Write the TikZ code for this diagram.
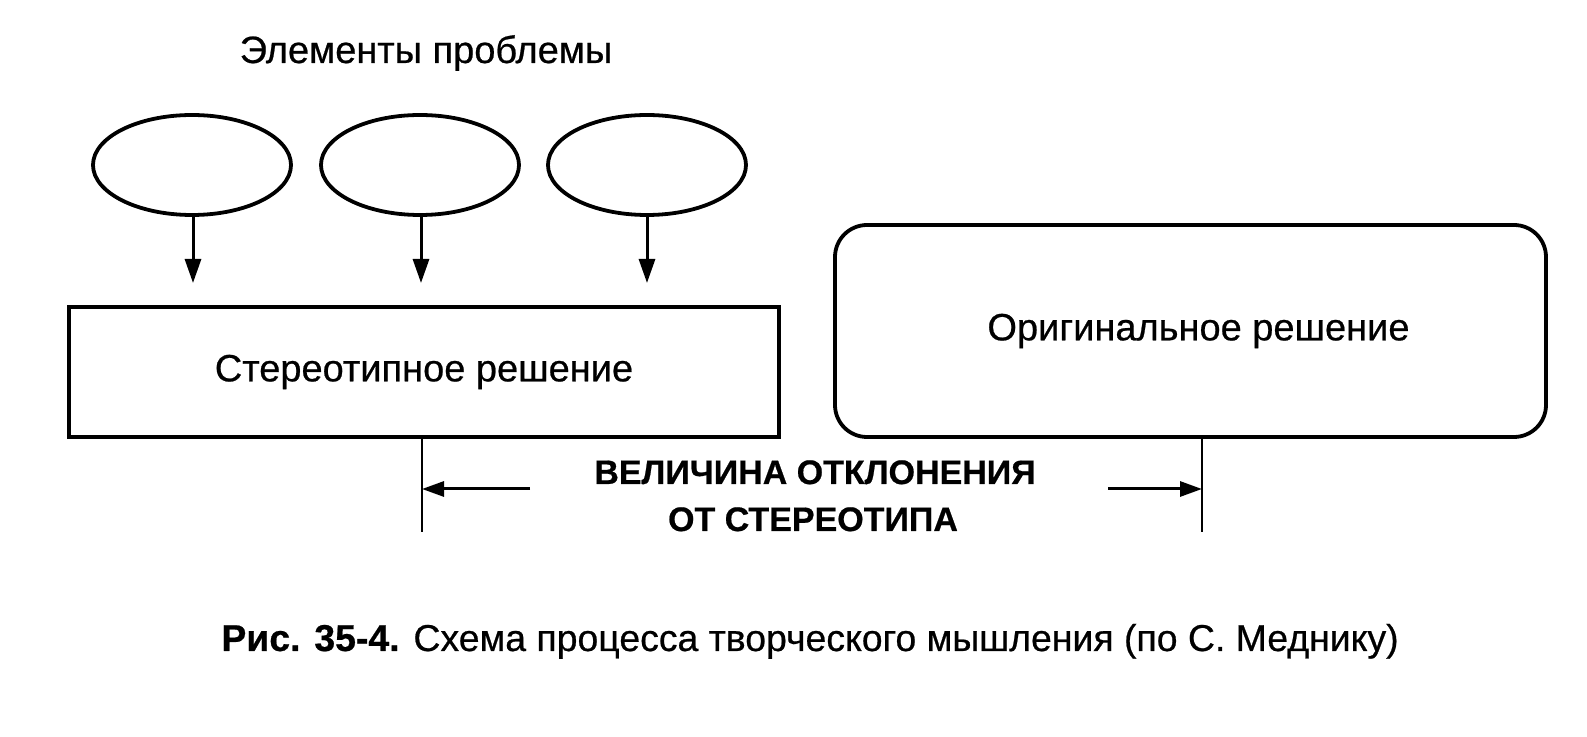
\documentclass[tikz,border=0pt]{standalone}
\usepackage{fontspec}
\setmainfont{Liberation Sans}[FakeBold=0.6]
\usetikzlibrary{arrows.meta,shapes.geometric}
\tikzset{
  elem/.style={draw, ellipse, line width=1.9pt, minimum width=99pt, minimum height=50pt, inner sep=0pt},
  stbox/.style={draw, rectangle, line width=1.9pt, minimum width=355pt, minimum height=65pt, inner sep=0pt, font=\fontsize{19}{22}\selectfont},
  orbox/.style={draw, rectangle, rounded corners=16pt, line width=1.9pt, minimum width=355.5pt, minimum height=106pt, inner sep=0pt, font=\fontsize{19}{22}\selectfont},
  down/.style={line width=1.5pt, -{Triangle[length=12pt,width=8pt]}},
  dimline/.style={line width=1.4pt},
  dimarrow/.style={line width=1.5pt, -{Triangle[length=11pt,width=7.5pt]}},
  lbl/.style={inner sep=0pt, anchor=base},
}
\begin{document}
\begin{tikzpicture}[x=0.5pt,y=-0.5pt]
\useasboundingbox (0,0) rectangle (1587,737);
\fill[white] (0,0) rectangle (1587,737);

\node[lbl, font=\fontsize{19}{22}\selectfont] (title) at (426,63) {Элементы проблемы};

\node[elem] (e1) at (192,165) {};
\node[elem] (e2) at (420,165) {};
\node[elem] (e3) at (647,165) {};

\node[stbox] (st) at (424,372) {Стереотипное решение};
\node[orbox] (or) at (1190.5,331) {\hspace*{8pt}Оригинальное решение};

\coordinate (a1) at (193,283);
\coordinate (a2) at (421,283);
\coordinate (a3) at (647,283);
\draw[down] (e1.south -| a1) -- (a1);
\draw[down] (e2.south -| a2) -- (a2);
\draw[down] (e3.south -| a3) -- (a3);

\coordinate (dl) at (422,532);
\coordinate (dr) at (1202,532);
\draw[dimline] (st.south -| dl) -- (dl);
\draw[dimline] (or.south -| dr) -- (dr);

\coordinate (ls) at (530,489);
\coordinate (rs) at (1108,489);
\draw[dimarrow] (ls) -- (ls -| dl);
\draw[dimarrow] (rs) -- (rs -| dr);

\node[lbl, font=\bfseries\fontsize{17}{20}\selectfont] (dev1) at (815,484) {ВЕЛИЧИНА ОТКЛОНЕНИЯ};
\node[lbl, font=\bfseries\fontsize{17}{20}\selectfont] (dev2) at (813,531) {ОТ СТЕРЕОТИПА};

\node[lbl, font=\fontsize{18.7}{22}\selectfont] (cap) at (810,651) {\textbf{Рис. 35-4.} Схема процесса творческого мышления (по С. Меднику)};
\end{tikzpicture}
\end{document}
